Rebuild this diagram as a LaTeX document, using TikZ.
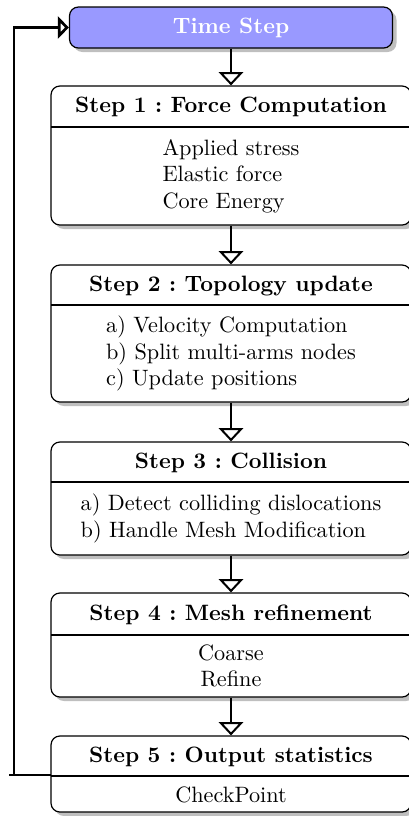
\documentclass[tikz,border=0pt]{standalone}
\usetikzlibrary{arrows.meta,shadows}
\frenchspacing
\begin{document}
\begin{tikzpicture}[x=0.45pt,y=-0.45pt,
  box/.style={draw, line width=0.55pt, rounded corners=4pt, fill=white,
    drop shadow={shadow xshift=1.8pt, shadow yshift=-1.8pt, fill=black!25, opacity=1},
    minimum width=162pt, inner sep=0pt},
  title/.style={font=\bfseries, anchor=base, inner sep=0pt},
  body/.style={align=left, inner sep=0pt},
  sep/.style={line width=0.55pt},
  flow/.style={line width=0.9pt, -{Triangle[open, width=11pt, length=6pt]}},
  fb/.style={line width=1.3pt},
]
\useasboundingbox (0,0) rectangle (409,816);

% Time step
\node[box, fill=blue!40, minimum width=145.35pt, minimum height=18.45pt,
      text=white, font=\bfseries] (ts) at (231,27.5) {Time Step};

% Step 1
\node[box, minimum height=62.55pt] (s1) at (231,155.5) {};
\draw[sep] (51,127) -- (411,127);
\node[title] (t1) at (231,112.5) {Step 1 : Force Computation};
\node[body] (b1) at (231,176) {Applied stress\\Elastic force\\Core Energy};

% Step 2
\node[box, minimum height=61.65pt] (s2) at (231,333.5) {};
\draw[sep] (51,305) -- (411,305);
\node[title] (t2) at (231,291) {Step 2 : Topology update};
\node[body] (b2) at (231,353.5) {a) Velocity Computation\\b) Split multi-arms nodes\\c) Update positions};

% Step 3
\node[box, minimum height=50.85pt] (s3) at (231,498.5) {};
\draw[sep] (51,482) -- (411,482);
\node[title] (t3) at (231,468) {Step 3 : Collision};
\node[body] (b3) at (231,518.5) {a) Detect colliding dislocations\\b) Handle Mesh Modification};

% Step 4
\node[box, minimum height=46.8pt] (s4) at (231,645) {};
\draw[sep] (51,635) -- (411,635);
\node[title] (t4) at (231,620) {Step 4 : Mesh refinement};
\node[body, align=center] (b4) at (231,666) {Coarse\\Refine};

% Step 5
\node[box, minimum height=34.2pt] (s5) at (231,774) {};
\draw[sep] (51,776) -- (411,776);
\node[title] (t5) at (231,762) {Step 5 : Output statistics};
\node[body] (b5) at (231,795) {CheckPoint};

% flow arrows
\draw[flow] (ts.south) -- (s1.north);
\draw[flow] (s1.south) -- (s2.north);
\draw[flow] (s2.south) -- (s3.north);
\draw[flow] (s3.south) -- (s4.north);
\draw[flow] (s4.south) -- (s5.north);

% feedback loop
\coordinate (h5) at (51,775);
\coordinate (fbs) at (9,775);
\coordinate (fbc) at (14,775);
\draw[line width=0.9pt] (h5) -- (fbs);
\draw[fb, -{Triangle[open, width=10pt, length=5pt]}] (fbc) |- (ts.west);
\end{tikzpicture}
\end{document}
